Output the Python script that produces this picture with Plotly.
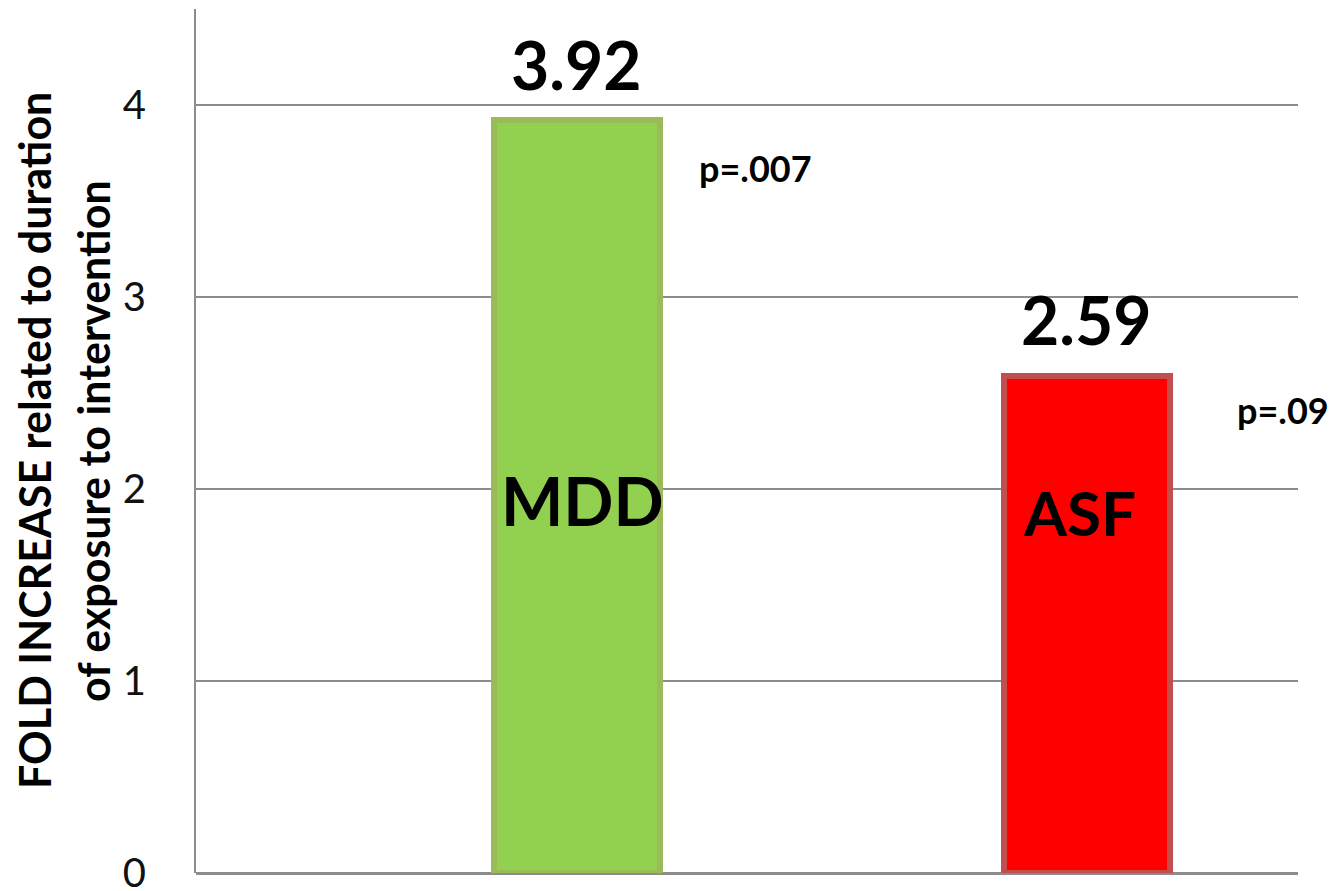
import plotly.graph_objects as go

# data
groups = ["MDD", "ASF"]
fold_increase = [3.92, 2.59]
p_values = ["p=.007", "p=.09"]
y_ticks = [0, 1, 2, 3, 4]

fill_colors = ["#92D050", "#FF0000"]
edge_colors = ["#9BBB59", "#C0504D"]
font = "Lato, 'Open Sans', sans-serif"

x_pos = list(range(len(groups)))

fig = go.Figure()

fig.add_trace(go.Bar(
    x=x_pos, y=fold_increase,
    width=0.325,
    marker=dict(color=fill_colors, line=dict(color=edge_colors, width=6)),
    showlegend=False, hoverinfo="skip"
))

annotations = []
# value labels above bars
for x, v in zip(x_pos, fold_increase):
    annotations.append(dict(
        x=x, y=v, yshift=56, text=f"<b>{v:.2f}</b>", showarrow=False,
        font=dict(family=font, size=66, color="black")
    ))

# group names inside bars
name_y = [1.94, 1.88]
name_size = [66, 62]
name_dx = [0.01, -0.015]
for x, g, ny, ns, dx in zip(x_pos, groups, name_y, name_size, name_dx):
    annotations.append(dict(
        x=x + dx, y=ny, text=f"<b>{g}</b>", showarrow=False,
        font=dict(family=font, size=ns, color="black")
    ))

# p-values to the right of bars
p_y = [3.67, 2.41]
p_x = [0.235, 1.29]
for px, py, p in zip(p_x, p_y, p_values):
    annotations.append(dict(
        x=px, y=py, xanchor="left", text=f"<b>{p}</b>", showarrow=False,
        font=dict(family=font, size=36, color="black")
    ))

# y-axis title in two lines
for xp, line in [(-0.147, "FOLD INCREASE related to duration"),
                 (-0.0935, "of exposure to intervention")]:
    annotations.append(dict(
        xref="paper", yref="paper", x=xp, y=0.5, xanchor="center",
        yanchor="middle", textangle=-90, text=f"<b>{line}</b>",
        showarrow=False, font=dict(family=font, size=43, color="black")
    ))

fig.update_layout(
    width=1322, height=883,
    margin=dict(l=188, r=32, t=1, b=18, autoexpand=False),
    paper_bgcolor="white", plot_bgcolor="white",
    bargap=0,
    xaxis=dict(range=[-0.747, 1.414], showticklabels=False, showgrid=False,
               zeroline=False, showline=False, fixedrange=True,
               automargin=False),
    yaxis=dict(range=[0, 4.5], tickvals=y_ticks, showgrid=True,
               gridcolor="#8C8C8C", gridwidth=2, zeroline=True,
               zerolinecolor="#8C8C8C", zerolinewidth=3,
               showline=True, linecolor="#8C8C8C", linewidth=2,
               ticks="", ticklabelstandoff=40, ticklabeloverflow="allow",
               automargin=False,
               tickfont=dict(family=font, size=40, color="#111111")),
    annotations=annotations,
)

fig.write_html("out.html")
